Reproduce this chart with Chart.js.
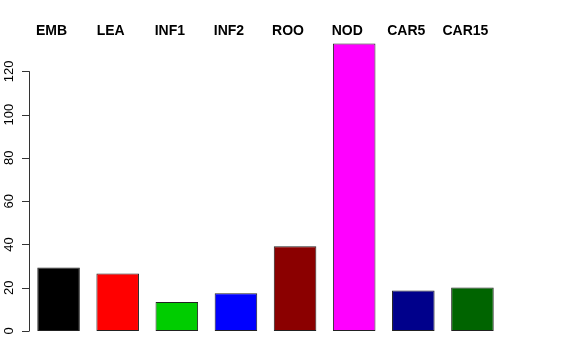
<!DOCTYPE html>
<html>
<head>
<meta charset="utf-8">
<script src="https://cdn.jsdelivr.net/npm/chart.js"></script>
<style>
  html, body { margin: 0; padding: 0; background: #fff; }
  #wrap { width: 576px; height: 360px; }
</style>
</head>
<body>
<div id="wrap"><canvas id="chart" width="576" height="360"></canvas></div>
<script>
// tissue categories and bar heights
const categories = ['EMB', 'LEA', 'INF1', 'INF2', 'ROO', 'NOD', 'CAR5', 'CAR15'];
const values = [29.3, 26.6, 13.4, 17.4, 39.2, 132.9, 18.7, 20.1];
const barColors = ['#000000', '#FF0000', '#00CD00', '#0000FF', '#8B0000', '#FF00FF', '#00008B', '#006400'];
const yTicks = [0, 20, 40, 60, 80, 100, 120];

// R style y axis: line only from first to last tick, labels turned 90 degrees
const rAxis = {
    id: 'rAxis',
    afterDraw(chart) {
        const ctx = chart.ctx;
        const y = chart.scales.y;
        const x0 = chart.chartArea.left;
        ctx.save();
        ctx.strokeStyle = '#333';
        ctx.lineWidth = 1;
        ctx.beginPath();
        ctx.moveTo(x0 + 0.5, y.getPixelForValue(yTicks[0]));
        ctx.lineTo(x0 + 0.5, y.getPixelForValue(yTicks[yTicks.length - 1]));
        yTicks.forEach(function (t) {
            const py = Math.round(y.getPixelForValue(t)) + 0.5;
            ctx.moveTo(x0 - 7, py);
            ctx.lineTo(x0 + 0.5, py);
        });
        ctx.stroke();
        ctx.fillStyle = '#000';
        ctx.font = '13px "Liberation Sans", Arial, sans-serif';
        ctx.textAlign = 'center';
        ctx.textBaseline = 'alphabetic';
        yTicks.forEach(function (t) {
            ctx.save();
            ctx.translate(13, y.getPixelForValue(t));
            ctx.rotate(-Math.PI / 2);
            ctx.fillText(String(t), 0, 0);
            ctx.restore();
        });
        ctx.restore();
    }
};

new Chart(document.getElementById('chart'), {
    type: 'bar',
    data: {
        labels: categories,
        datasets: [{
            data: values,
            backgroundColor: barColors,
            borderColor: '#222',
            borderWidth: 1,
            borderSkipped: false,
            barPercentage: 0.72,
            categoryPercentage: 1
        }]
    },
    options: {
        responsive: false,
        animation: false,
        layout: { padding: { left: 0, right: 74, top: 0, bottom: 29 } },
        plugins: { legend: { display: false }, tooltip: { enabled: false } },
        scales: {
            x: {
                position: 'top',
                grid: { display: false, drawTicks: false },
                border: { display: false },
                ticks: {
                    color: '#000',
                    font: { family: '"Liberation Sans", Arial, sans-serif', size: 14, weight: 'bold' },
                    padding: 1,
                    labelOffset: -7,
                    maxRotation: 0,
                    autoSkip: false
                },
                afterFit(scale) { scale.height = 41; }
            },
            y: {
                min: 0,
                max: 134,
                grid: { display: false },
                border: { display: false },
                ticks: { display: false },
                afterFit(scale) { scale.width = 29; }
            }
        }
    },
    plugins: [rAxis]
});
</script>
</body>
</html>
